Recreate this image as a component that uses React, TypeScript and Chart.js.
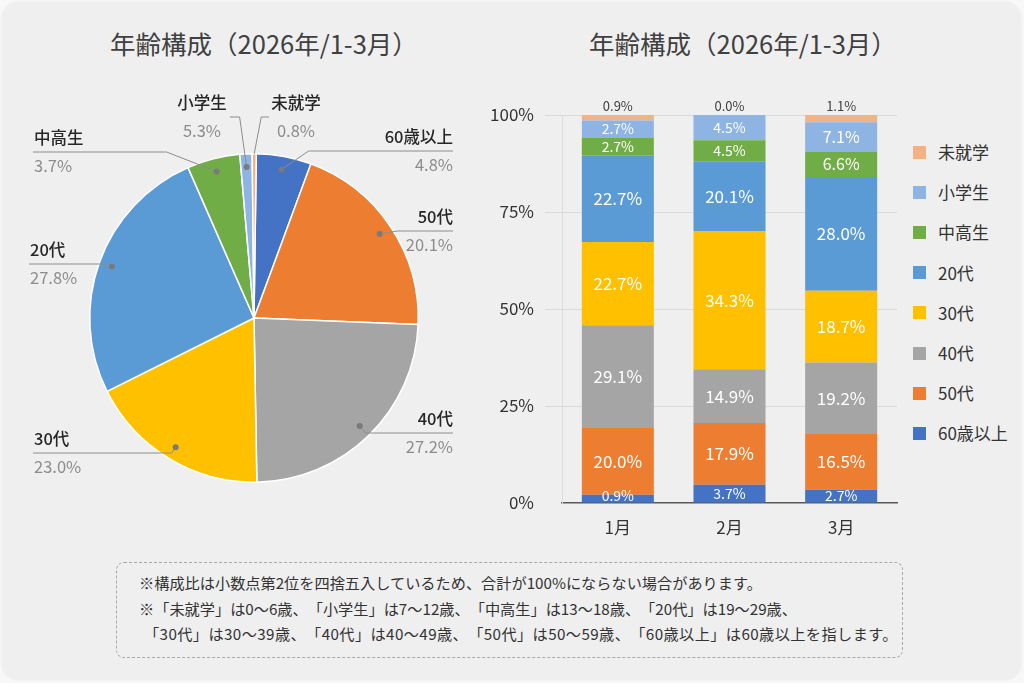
import React, { useEffect, useRef } from "react";
import { Chart, registerables } from "chart.js";

Chart.register(...registerables);

const FONT = '"Noto Sans CJK JP", "Noto Sans", sans-serif';

// ---------- data ----------
const chartTitle = "年齢構成（2026年/1-3月）";

const ageGroups = ["60歳以上", "50代", "40代", "30代", "20代", "中高生", "小学生", "未就学"];
const groupColors = ["#4472C4", "#ED7D31", "#A5A5A5", "#FFC000", "#5B9BD5", "#70AD47", "#8EB4E3", "#F4B183"];

// pie: slice sizes as drawn (%), and the percentages printed beside them
const pieShares = [5.4, 20.0, 24.1, 17.9, 25.8, 5.2, 1.2, 0.4];
const pieLabelValues = [4.8, 20.1, 27.2, 23.0, 27.8, 3.7, 5.3, 0.8];

// stacked bars: months
const months = ["1月", "2月", "3月"];
const yTicks = [0, 25, 50, 75, 100];

// segment sizes as drawn (%)
const over60Shares = [2.1, 4.7, 3.4];
const fiftiesShares = [17.4, 15.9, 14.4];
const fortiesShares = [26.3, 13.9, 18.4];
const thirtiesShares = [21.5, 35.5, 18.5];
const twentiesShares = [22.2, 18.1, 29.3];
const juniorHighShares = [4.6, 5.4, 6.6];
const elementaryShares = [4.5, 6.5, 7.5];
const preschoolShares = [1.4, 0.0, 1.9];

// percentages printed on the segments
const over60Labels = [0.9, 3.7, 2.7];
const fiftiesLabels = [20.0, 17.9, 16.5];
const fortiesLabels = [29.1, 14.9, 19.2];
const thirtiesLabels = [22.7, 34.3, 18.7];
const twentiesLabels = [22.7, 20.1, 28.0];
const juniorHighLabels = [2.7, 4.5, 6.6];
const elementaryLabels = [2.7, 4.5, 7.1];
const preschoolLabels = [0.9, 0.0, 1.1];

const notes = [
  "※構成比は小数点第2位を四捨五入しているため、合計が100%にならない場合があります。",
  "※「未就学」は0～6歳、「小学生」は7～12歳、「中高生」は13～18歳、「20代」は19～29歳、",
  "「30代」は30～39歳、「40代」は40～49歳、「50代」は50～59歳、「60歳以上」は60歳以上を指します。",
];

const barShares = [
  over60Shares, fiftiesShares, fortiesShares, thirtiesShares,
  twentiesShares, juniorHighShares, elementaryShares, preschoolShares,
];
const barLabels = [
  over60Labels, fiftiesLabels, fortiesLabels, thirtiesLabels,
  twentiesLabels, juniorHighLabels, elementaryLabels, preschoolLabels,
];

// ---------- layout of pie callouts (page px) ----------
type Callout = {
  side: "left" | "right" | "top";
  lineY: number;
  endX: number;
  elbowDx: number;
  dot: boolean;
  dotR: number;
  textX?: number;
};
const pieCallouts: Callout[] = [
  { side: "right", lineY: 151, endX: 453, elbowDx: 27, dot: true, dotR: 0.92 },
  { side: "right", lineY: 231, endX: 453, elbowDx: 18, dot: true, dotR: 0.92 },
  { side: "right", lineY: 433, endX: 453, elbowDx: 6, dot: true, dotR: 0.92 },
  { side: "left", lineY: 453, endX: 33, elbowDx: -4, dot: true, dotR: 0.92 },
  { side: "left", lineY: 264, endX: 29, elbowDx: -3, dot: true, dotR: 0.92 },
  { side: "left", lineY: 152, endX: 33, elbowDx: -50, dot: true, dotR: 0.92 },
  { side: "top", lineY: 117, endX: 230, elbowDx: -7, dot: true, dotR: 0.92, textX: 202 },
  { side: "top", lineY: 117, endX: 269, elbowDx: 7, dot: false, dotR: 1.0, textX: 296 },
];

const fmt = (v: number) => v.toFixed(1) + "%";

const pieLabelPlugin = {
  id: "pieCallouts",
  afterDatasetsDraw(chart: any) {
    const ctx = chart.ctx as CanvasRenderingContext2D;
    const meta = chart.getDatasetMeta(0);
    meta.data.forEach((arc: any, i: number) => {
      const L = pieCallouts[i];
      const p = arc.getProps(["x", "y", "startAngle", "endAngle", "outerRadius"], true);
      const mid = (p.startAngle + p.endAngle) / 2;
      const r = p.outerRadius * L.dotR;
      const dx = p.x + Math.cos(mid) * r;
      const dy = p.y + Math.sin(mid) * r;
      ctx.save();
      ctx.strokeStyle = "#8c8c8c";
      ctx.lineWidth = 1;
      ctx.beginPath();
      ctx.moveTo(dx, dy);
      ctx.lineTo(dx + L.elbowDx, L.lineY);
      ctx.lineTo(L.endX, L.lineY);
      ctx.stroke();
      if (L.dot) {
        ctx.fillStyle = "#7a7a7a";
        ctx.beginPath();
        ctx.arc(dx, dy, 3, 0, Math.PI * 2);
        ctx.fill();
      }
      ctx.textBaseline = "middle";
      let tx = L.endX;
      if (L.side === "right") ctx.textAlign = "right";
      else if (L.side === "left") { ctx.textAlign = "left"; tx = L.endX + 1; }
      else { ctx.textAlign = "center"; tx = L.textX || L.endX; }
      ctx.fillStyle = "#262626";
      ctx.font = `500 16.5px ${FONT}`;
      ctx.fillText(ageGroups[i], tx, L.lineY - 14.5);
      ctx.fillStyle = "#8c8c8c";
      ctx.font = `400 16.5px ${FONT}`;
      ctx.fillText(fmt(pieLabelValues[i]), tx, L.lineY + 13.5);
      ctx.restore();
    });
  },
};

const barLabelPlugin = {
  id: "barLabels",
  afterDatasetsDraw(chart: any) {
    const ctx = chart.ctx as CanvasRenderingContext2D;
    const last = chart.data.datasets.length - 1;
    chart.data.datasets.forEach((_ds: any, di: number) => {
      const meta = chart.getDatasetMeta(di);
      meta.data.forEach((bar: any, i: number) => {
        const p = bar.getProps(["x", "y", "base"], true);
        const val = barLabels[di][i];
        const text = fmt(val);
        ctx.save();
        ctx.textAlign = "center";
        ctx.textBaseline = "middle";
        if (di === last) {
          ctx.fillStyle = "#404040";
          ctx.font = `400 13px ${FONT}`;
          ctx.fillText(text, p.x, Math.min(p.y, p.base) - 9);
        } else {
          const size = val < 5 ? 14 : val < 10 ? 16 : 17;
          ctx.fillStyle = "#ffffff";
          ctx.font = `400 ${size}px ${FONT}`;
          const top = Math.min(p.y, p.base);
          const bot = Math.max(p.y, p.base);
          const cy = Math.min((top + bot) / 2, bot - 7);
          ctx.fillText(text, p.x, cy);
        }
        ctx.restore();
      });
    });
  },
};

function PieChart() {
  const ref = useRef<HTMLCanvasElement>(null);
  useEffect(() => {
    const chart = new Chart(ref.current!, {
      type: "pie",
      data: {
        labels: ageGroups,
        datasets: [
          {
            data: pieShares,
            backgroundColor: groupColors,
            borderColor: "#ffffff",
            borderWidth: 1.5,
          },
        ],
      },
      options: {
        responsive: false,
        animation: false,
        events: [],
        rotation: 0.8,
        layout: { padding: { left: 89, right: 71, top: 153, bottom: 57 } },
        plugins: { legend: { display: false }, tooltip: { enabled: false }, title: { display: false } },
      },
      plugins: [pieLabelPlugin],
    } as any);
    return () => chart.destroy();
  }, []);
  return (
    <canvas
      ref={ref}
      width={490}
      height={540}
      style={{ position: "absolute", left: 0, top: 0, width: 490, height: 540 }}
    />
  );
}

function BarChart() {
  const ref = useRef<HTMLCanvasElement>(null);
  useEffect(() => {
    const chart = new Chart(ref.current!, {
      type: "bar",
      data: {
        labels: months,
        datasets: ageGroups.map((g, i) => ({
          label: g,
          data: barShares[i],
          backgroundColor: groupColors[i],
          borderWidth: 0,
          barPercentage: 0.645,
          categoryPercentage: 1.0,
        })),
      },
      options: {
        responsive: false,
        animation: false,
        events: [],
        layout: { padding: { left: 0, right: 3, top: 35, bottom: 7 } },
        plugins: { legend: { display: false }, tooltip: { enabled: false }, title: { display: false } },
        scales: {
          x: {
            stacked: true,
            grid: { display: false, drawTicks: false },
            border: { display: true, color: "#595959", width: 1.5 },
            ticks: { color: "#333333", font: { family: FONT, size: 17 }, padding: 14 },
            afterFit: (s: any) => { s.height = 40; },
          },
          y: {
            stacked: true,
            min: 0,
            max: 100,
            afterBuildTicks: (s: any) => { s.ticks = yTicks.map((v) => ({ value: v })); },
            grid: {
              color: (c: any) => (c.tick && c.tick.value === 0 ? "rgba(0,0,0,0)" : "#d9d9d9"),
              tickColor: (c: any) => (c.tick && c.tick.value === 0 ? "rgba(0,0,0,0)" : "#d9d9d9"),
              tickLength: 17,
              lineWidth: 1,
            },
            border: { display: true, color: "#dcdcdc", width: 1 },
            ticks: {
              color: "#333333",
              font: { family: FONT, size: 17 },
              padding: 11,
              callback: (v: any) => v + "%",
            },
            afterFit: (s: any) => { s.width = 82; },
          },
        },
      },
      plugins: [barLabelPlugin],
    } as any);
    return () => chart.destroy();
  }, []);
  return (
    <canvas
      ref={ref}
      width={420}
      height={470}
      style={{ position: "absolute", left: 480, top: 80, width: 420, height: 470 }}
    />
  );
}

function Legend() {
  const order = ageGroups.map((_, i) => i).reverse();
  return (
    <div style={{ position: "absolute", left: 913, top: 132, fontFamily: FONT }}>
      {order.map((idx) => (
        <div key={idx} style={{ display: "flex", alignItems: "center", height: 40.2 }}>
          <div style={{ width: 13, height: 13, background: groupColors[idx], marginRight: 12 }} />
          <div style={{ fontSize: 17, color: "#333333", lineHeight: "20px", whiteSpace: "nowrap" }}>{ageGroups[idx]}</div>
        </div>
      ))}
    </div>
  );
}

export default function App() {
  const titleStyle = (cx: number): React.CSSProperties => ({
    position: "absolute",
    left: cx - 200,
    width: 400,
    top: 27,
    textAlign: "center",
    fontFamily: FONT,
    fontSize: 25.5,
    lineHeight: "32px",
    color: "#404040",
    whiteSpace: "nowrap",
  });
  return (
    <div
      style={{
        position: "fixed",
        left: 0,
        top: 0,
        width: 1024,
        height: 683,
        background: "#f8f8f8",
        overflow: "hidden",
      }}
    >
      <div
        style={{
          position: "absolute",
          left: 2,
          top: 2,
          width: 1019,
          height: 678,
          borderRadius: 16,
          background: "#efefef",
          boxShadow: "0 0 3px rgba(0,0,0,0.06)",
        }}
      />
      <div style={titleStyle(264)}>{chartTitle}</div>
      <div style={titleStyle(743)}>{chartTitle}</div>
      <PieChart />
      <BarChart />
      <Legend />
      <div
        style={{
          position: "absolute",
          left: 116,
          top: 562,
          width: 787,
          height: 96,
          boxSizing: "border-box",
          border: "1px dashed #a8a8a8",
          borderRadius: 8,
          padding: "7px 0 0 22px",
          fontFamily: FONT,
          fontSize: 15.2,
          lineHeight: "25.5px",
          color: "#333333",
          whiteSpace: "nowrap",
          ...({ textSpacingTrim: "space-all" } as any),
        }}
      >
        {notes.map((n, i) => (
          <div key={i} style={{ paddingLeft: i === 2 ? 5 : 0, letterSpacing: i === 2 ? 0.4 : 0 }}>{n}</div>
        ))}
      </div>
    </div>
  );
}
